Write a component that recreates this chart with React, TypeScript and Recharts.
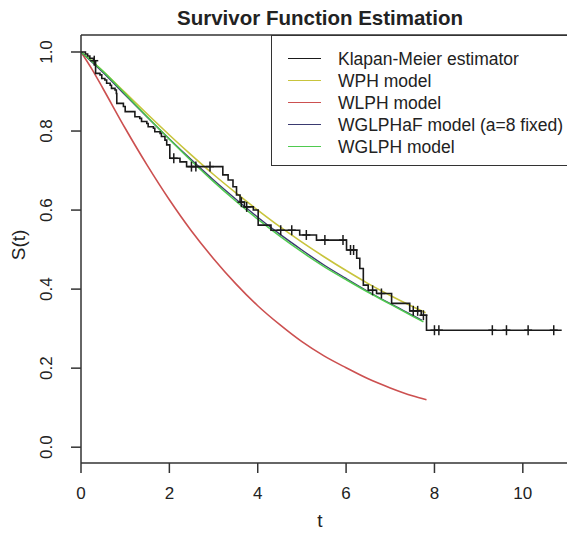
import React from 'react';
import { ComposedChart, Line, Scatter, XAxis, YAxis, ReferenceLine } from 'recharts';

const xTicks = [0, 2, 4, 6, 8, 10];
const yTicks = [0, 0.2, 0.4, 0.6, 0.8, 1.0];

const kmSteps = [
  { t: 0, s: 1.0 }, { t: 0.1, s: 0.995 }, { t: 0.15, s: 0.99 }, { t: 0.2, s: 0.984 },
  { t: 0.28, s: 0.978 }, { t: 0.33, s: 0.946 }, { t: 0.43, s: 0.942 }, { t: 0.47, s: 0.933 },
  { t: 0.54, s: 0.929 }, { t: 0.58, s: 0.921 }, { t: 0.66, s: 0.916 }, { t: 0.69, s: 0.908 },
  { t: 0.77, s: 0.904 }, { t: 0.8, s: 0.895 }, { t: 0.81, s: 0.87 }, { t: 0.96, s: 0.862 },
  { t: 1.0, s: 0.849 }, { t: 1.22, s: 0.836 }, { t: 1.33, s: 0.832 }, { t: 1.37, s: 0.824 },
  { t: 1.49, s: 0.819 }, { t: 1.52, s: 0.811 }, { t: 1.64, s: 0.807 }, { t: 1.67, s: 0.798 },
  { t: 1.79, s: 0.794 }, { t: 1.82, s: 0.786 }, { t: 1.9, s: 0.777 }, { t: 1.94, s: 0.765 },
  { t: 2.01, s: 0.731 }, { t: 2.24, s: 0.722 }, { t: 2.39, s: 0.71 }, { t: 3.21, s: 0.689 },
  { t: 3.33, s: 0.676 }, { t: 3.44, s: 0.659 }, { t: 3.52, s: 0.638 }, { t: 3.6, s: 0.62 },
  { t: 3.7, s: 0.608 }, { t: 3.9, s: 0.6 }, { t: 4.01, s: 0.562 }, { t: 4.3, s: 0.549 },
  { t: 4.95, s: 0.537 }, { t: 5.33, s: 0.524 }, { t: 6.01, s: 0.499 }, { t: 6.24, s: 0.478 },
  { t: 6.31, s: 0.452 }, { t: 6.39, s: 0.41 }, { t: 6.5, s: 0.397 }, { t: 6.69, s: 0.389 },
  { t: 7.03, s: 0.364 }, { t: 7.44, s: 0.345 }, { t: 7.7, s: 0.334 }, { t: 7.82, s: 0.296 },
  { t: 10.88, s: 0.296 },
];

const kmCensored = [
  { t: 0.3, s: 0.978 }, { t: 2.1, s: 0.731 }, { t: 2.5, s: 0.71 }, { t: 2.6, s: 0.71 },
  { t: 2.92, s: 0.71 }, { t: 3.63, s: 0.62 }, { t: 3.75, s: 0.608 }, { t: 4.52, s: 0.549 },
  { t: 4.77, s: 0.549 }, { t: 5.1, s: 0.537 }, { t: 5.52, s: 0.524 }, { t: 5.93, s: 0.524 },
  { t: 6.1, s: 0.499 }, { t: 6.17, s: 0.499 }, { t: 6.6, s: 0.397 }, { t: 6.8, s: 0.389 },
  { t: 7.52, s: 0.345 }, { t: 7.62, s: 0.345 }, { t: 7.75, s: 0.334 }, { t: 8.0, s: 0.296 },
  { t: 8.1, s: 0.296 }, { t: 9.31, s: 0.296 }, { t: 9.63, s: 0.296 }, { t: 10.12, s: 0.296 },
  { t: 10.7, s: 0.296 },
];

const wphCurve = [
  { t: 0, s: 1.0 }, { t: 0.25, s: 0.977 }, { t: 0.5, s: 0.951 }, { t: 1, s: 0.897 },
  { t: 1.5, s: 0.843 }, { t: 2, s: 0.79 }, { t: 2.5, s: 0.739 }, { t: 3, s: 0.69 },
  { t: 3.5, s: 0.644 }, { t: 4, s: 0.6 }, { t: 4.5, s: 0.558 }, { t: 5, s: 0.519 },
  { t: 5.5, s: 0.482 }, { t: 6, s: 0.447 }, { t: 6.5, s: 0.414 }, { t: 7, s: 0.384 },
  { t: 7.5, s: 0.356 }, { t: 7.8, s: 0.34 },
];

const wlphCurve = [
  { t: 0, s: 1.0 }, { t: 0.25, s: 0.956 }, { t: 0.5, s: 0.907 }, { t: 1, s: 0.807 },
  { t: 1.5, s: 0.713 }, { t: 2, s: 0.626 }, { t: 2.5, s: 0.547 }, { t: 3, s: 0.477 },
  { t: 3.5, s: 0.414 }, { t: 4, s: 0.358 }, { t: 4.5, s: 0.31 }, { t: 5, s: 0.267 },
  { t: 5.5, s: 0.231 }, { t: 6, s: 0.201 }, { t: 6.5, s: 0.173 }, { t: 7, s: 0.15 },
  { t: 7.5, s: 0.13 }, { t: 7.82, s: 0.12 },
];

const wglphafCurve = [
  { t: 0, s: 1.0 }, { t: 0.5, s: 0.948 }, { t: 1, s: 0.891 }, { t: 1.5, s: 0.835 },
  { t: 2, s: 0.78 }, { t: 2.5, s: 0.727 }, { t: 3, s: 0.676 }, { t: 3.5, s: 0.628 },
  { t: 4, s: 0.582 }, { t: 4.5, s: 0.539 }, { t: 5, s: 0.499 }, { t: 5.5, s: 0.461 },
  { t: 6, s: 0.427 }, { t: 6.5, s: 0.394 }, { t: 7, s: 0.363 }, { t: 7.5, s: 0.334 },
  { t: 7.72, s: 0.321 },
];

const wglphCurve = [
  { t: 0, s: 1.0 }, { t: 0.5, s: 0.951 }, { t: 1, s: 0.894 }, { t: 1.5, s: 0.836 },
  { t: 2, s: 0.779 }, { t: 2.5, s: 0.724 }, { t: 3, s: 0.672 }, { t: 3.5, s: 0.623 },
  { t: 4, s: 0.577 }, { t: 4.5, s: 0.534 }, { t: 5, s: 0.494 }, { t: 5.5, s: 0.457 },
  { t: 6, s: 0.424 }, { t: 6.5, s: 0.392 }, { t: 7, s: 0.362 }, { t: 7.5, s: 0.332 },
  { t: 7.75, s: 0.317 },
];

const seriesNames = [
  'Klapan-Meier estimator',
  'WPH model',
  'WLPH model',
  'WGLPHaF model (a=8 fixed)',
  'WGLPH model',
];
const seriesColors = ['#1a1a1a', '#c8c43c', '#cc5050', '#3a3a70', '#4fca4f'];

const FONT = '"Liberation Sans", Arial, Helvetica, sans-serif';
const AXIS = '#333333';

const CensorMark = (props: any) => {
  const { cx, cy } = props;
  if (cx == null || cy == null) return null;
  return (
    <g>
      <line x1={cx} y1={cy - 5} x2={cx} y2={cy + 5} stroke="#1a1a1a" strokeWidth={1.5} />
      <line x1={cx - 4} y1={cy} x2={cx + 4} y2={cy} stroke="#1a1a1a" strokeWidth={1.5} />
    </g>
  );
};

const XTick = (props: any) => {
  const { x, payload } = props;
  return (
    <text x={x} y={499} textAnchor="middle" fontSize={17} fill="#222" fontFamily={FONT}>
      {payload.value}
    </text>
  );
};

const YTick = (props: any) => {
  const { y, payload } = props;
  return (
    <text
      transform={`translate(52,${y}) rotate(-90)`}
      textAnchor="middle"
      fontSize={17}
      fill="#222"
      fontFamily={FONT}
    >
      {Number(payload.value).toFixed(1)}
    </text>
  );
};

export default function App() {
  return (
    <div style={{ position: 'absolute', left: 0, top: 0, width: 567, height: 533, overflow: 'hidden', background: '#fff' }}>
      <ComposedChart width={567} height={533} margin={{ top: 35, right: 0, bottom: 0, left: 0 }}>
        <XAxis
          type="number"
          dataKey="t"
          domain={[0, 11]}
          ticks={xTicks}
          allowDataOverflow
          tickSize={10}
          height={70}
          stroke={AXIS}
          strokeWidth={1.5}
          tick={<XTick />}
          label={{
            content: () => (
              <text x={320} y={527} textAnchor="middle" fontSize={19} fill="#222" fontFamily={FONT}>t</text>
            ),
          }}
        />
        <YAxis
          type="number"
          dataKey="s"
          domain={[-0.04, 1.043]}
          ticks={yTicks}
          allowDataOverflow
          tickSize={10}
          width={81}
          stroke={AXIS}
          strokeWidth={1.5}
          tick={<YTick />}
          label={{
            content: () => (
              <text transform="translate(25,245) rotate(-90)" textAnchor="middle" fontSize={19} fill="#222" fontFamily={FONT}>S(t)</text>
            ),
          }}
        />
        <ReferenceLine y={1.043} stroke={AXIS} strokeWidth={1.5} />
        <Line data={wphCurve} dataKey="s" type="monotone" stroke={seriesColors[1]} strokeWidth={1.6} dot={false} isAnimationActive={false} />
        <Line data={wlphCurve} dataKey="s" type="monotone" stroke={seriesColors[2]} strokeWidth={1.6} dot={false} isAnimationActive={false} />
        <Line data={wglphafCurve} dataKey="s" type="monotone" stroke={seriesColors[3]} strokeWidth={1.4} dot={false} isAnimationActive={false} />
        <Line data={wglphCurve} dataKey="s" type="monotone" stroke={seriesColors[4]} strokeWidth={1.5} dot={false} isAnimationActive={false} />
        <Line data={kmSteps} dataKey="s" type="stepAfter" stroke={seriesColors[0]} strokeWidth={1.6} dot={false} isAnimationActive={false} />
        <Scatter data={kmCensored} dataKey="s" shape={<CensorMark />} isAnimationActive={false} />
      </ComposedChart>
      <div style={{ position: 'absolute', left: 110, width: 420, top: 7, textAlign: 'center', fontFamily: FONT, fontWeight: 'bold', fontSize: 20.5, lineHeight: '22px', color: '#222' }}>
        Survivor Function Estimation
      </div>
      <div style={{ position: 'absolute', left: 271, top: 35, width: 330, height: 131, border: `1.5px solid ${AXIS}`, background: '#fff', boxSizing: 'border-box' }}>
        {seriesNames.map((name, i) => (
          <div key={name} style={{ position: 'absolute', left: 0, top: 12 + i * 22, height: 22, width: 330 }}>
            <div style={{ position: 'absolute', left: 16, top: 10, width: 33, height: 0, borderTop: `1.5px solid ${seriesColors[i]}` }} />
            <div style={{ position: 'absolute', left: 66, top: 0, fontFamily: FONT, fontSize: 17.5, lineHeight: '22px', color: '#222', whiteSpace: 'nowrap' }}>
              {name}
            </div>
          </div>
        ))}
      </div>
    </div>
  );
}
